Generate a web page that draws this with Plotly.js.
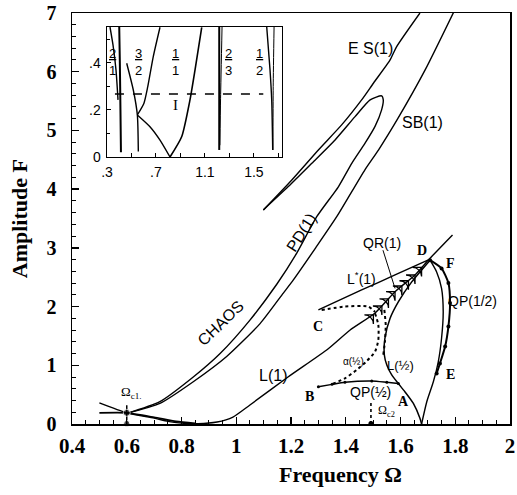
<!DOCTYPE html>
<html>
<head>
<meta charset="utf-8">
<script src="https://cdn.plot.ly/plotly-3.0.1.min.js"></script>
<style>html,body{margin:0;padding:0;background:#fff}#chart{width:517px;height:495px}</style>
</head>
<body>
<div id="chart"></div>
<script>
// ---------- main diagram data (Frequency Ω, Amplitude F) ----------
const l1Omega = [0.50,0.60,0.70,0.75,0.80,0.86,0.93,0.988,1.05,1.189,1.335,1.416,1.507,1.58,1.653,1.702,1.79];
const l1F     = [0.36,0.19,0.10,0.045,0.015,0.005,0.034,0.119,0.324,0.801,1.278,1.601,1.891,2.254,2.538,2.794,3.22];
const crossOmega = [0.50,0.60,0.70,0.78,0.85];
const crossF     = [0.19,0.19,0.115,0.045,0.01];
const pdOmega = [0.600,0.721,0.843,0.941,1.050,1.148,1.221,1.294,1.373,1.422,1.470,1.507,1.531,1.537,1.531,1.489,1.434,1.361,1.276,1.190,1.099];
const pdF     = [0.18,0.38,0.80,1.20,1.77,2.38,2.91,3.53,4.04,4.44,4.78,5.07,5.35,5.52,5.59,5.52,5.235,4.838,4.441,4.043,3.646];
const esOmega = [1.099,1.203,1.300,1.385,1.458,1.501,1.562,1.586,1.671];
const esF     = [3.646,4.157,4.668,5.094,5.520,5.804,6.201,6.428,7.0];
const sbOmega = [0.600,0.721,0.843,0.965,1.087,1.172,1.208,1.290,1.367,1.470,1.52,1.59,1.69,1.80];
const sbF     = [0.18,0.35,0.72,1.15,1.71,2.23,2.45,3.00,3.53,4.33,4.67,5.2,6.03,7.07];
const lStarOmega = [1.300,1.458,1.580,1.702];
const lStarF     = [1.942,2.283,2.538,2.794];
const dotCOmega = [1.312,1.397,1.482,1.507];
const dotCF     = [1.94,2.0,2.0,1.91];
const dot1Omega = [1.507,1.519,1.519,1.507,1.477,1.440,1.397,1.349];
const dot1F     = [1.886,1.687,1.431,1.232,1.073,0.92,0.778,0.676];
const dot2Omega = [1.541,1.546,1.543,1.537];
const dot2F     = [1.942,1.687,1.40,1.175];
const lHalfOmega = [1.708,1.641,1.592,1.562,1.543,1.541,1.550,1.568,1.592,1.616,1.647,1.671,1.677];
const lHalfF     = [2.79,2.42,2.08,1.80,1.46,1.175,1.005,0.835,0.69,0.55,0.35,0.097,0.0];
const bOmega = [1.300,1.35,1.397,1.495,1.55,1.592];
const bF     = [0.636,0.675,0.71,0.733,0.71,0.69];
const rightOmega = [1.677,1.696,1.720,1.738,1.750,1.756,1.750,1.732,1.708];
const rightF     = [0.0,0.38,0.72,1.06,1.46,1.91,2.31,2.59,2.79];
const qpOmega = [1.708,1.750,1.775,1.781,1.775,1.763,1.744,1.732];
const qpF     = [2.79,2.65,2.40,2.06,1.66,1.32,1.03,0.86];
const qrArrowOmega = [1.501,1.532,1.556,1.580,1.605,1.629,1.653,1.677];
const qrArrowF     = [1.857,2.01,2.13,2.254,2.35,2.44,2.538,2.666];
const qrPtrOmega = [1.536,1.580];
const qrPtrF     = [2.96,2.31];
const omegaC1 = 0.6, omegaC1Top = 0.32, omegaC1F = 0.19;
const omegaC2 = 1.492, omegaC2Top = 0.37;

// ---------- inset data (Ω, F) ----------
const t21aX = [0.3245,0.349,0.3735,0.39];      const t21aY = [0.553,0.477,0.37,0.243];
const t21bX = [0.40,0.405,0.41,0.414];         const t21bY = [0.553,0.40,0.20,0.02];
const t32aX = [0.461,0.515,0.548,0.556];       const t32aY = [0.399,0.285,0.179,0.023];
const t32bX = [0.733,0.678,0.633,0.602,0.548]; const t32bY = [0.552,0.427,0.299,0.229,0.179];
const cuspX = [0.548,0.651,0.733,0.815];       const cuspY = [0.179,0.129,0.072,0.0];
const t11X  = [1.074,1.019,0.978,0.910,0.815]; const t11Y  = [0.552,0.370,0.243,0.086,0.0];
const t23aX = [1.217,1.217];                   const t23aY = [0.553,0.03];
const t23bX = [1.240,1.228,1.222];             const t23bY = [0.553,0.25,0.05];
const t12aX = [1.605,1.632,1.646,1.654];       const t12aY = [0.553,0.37,0.24,0.03];
const t12bX = [1.665,1.658,1.656];             const t12bY = [0.553,0.30,0.03];
const dashX = [0.365,1.577];                   const dashY = [0.268,0.268];
const insetTickVals = [0.3,0.7,1.1,1.5];
const insetTickText = ['.3','.7','1.1','1.5'];
const insetMinorVals = [0.5,0.9,1.3,1.7];
const insetYVals = [0,0.2,0.4];
const insetYText = ['0','.2','.4'];
const fracs = [
  {num:'2', den:'1', x:0.349},
  {num:'3', den:'2', x:0.556},
  {num:'1', den:'1', x:0.856},
  {num:'2', den:'3', x:1.291},
  {num:'1', den:'2', x:1.55}
];
const fracY = 0.404;

// ---------- traces ----------
const K = '#000';
const traces = [];
function line(x, y, o) {
  o = o || {};
  traces.push({
    type:'scatter', x:x, y:y, mode:o.mode || 'lines',
    xaxis:o.inset ? 'x2' : 'x', yaxis:o.inset ? 'y2' : 'y',
    line:{color:K, width:o.w || 1.4, dash:o.dash || 'solid', shape:'spline', smoothing:0.6},
    marker:o.marker || {size:1, color:K},
    hoverinfo:'skip', cliponaxis:true
  });
}
line(l1Omega, l1F);
line(crossOmega, crossF, {w:1.6});
line(pdOmega, pdF);
line(esOmega, esF);
line(sbOmega, sbF);
line(lStarOmega, lStarF);
line(dotCOmega, dotCF, {dash:'dot', w:2});
line(dot1Omega, dot1F, {dash:'dot', w:2});
line(dot2Omega, dot2F, {dash:'dot', w:2});
line(lHalfOmega, lHalfF, {w:1.5});
line(bOmega, bF, {w:1.5, mode:'lines+markers', marker:{size:3, color:K}});
line(rightOmega, rightF, {w:1.4});
line(qpOmega, qpF, {w:2, mode:'lines+markers', marker:{size:4, color:K}});
line(qrPtrOmega, qrPtrF, {w:1});
traces.push({type:'scatter', x:qrArrowOmega, y:qrArrowF, mode:'markers', xaxis:'x', yaxis:'y',
  marker:{symbol:'arrow-wide-open', size:9, angle:45, color:K, line:{color:K, width:1.3}}, hoverinfo:'skip'});
line([omegaC1, omegaC1], [0, omegaC1Top], {w:1.5});
traces.push({type:'scatter', x:[omegaC1, omegaC1], y:[omegaC1F, 0.01], mode:'markers', xaxis:'x', yaxis:'y',
  marker:{size:[7,6], color:K}, hoverinfo:'skip', cliponaxis:false});
line([omegaC2, omegaC2], [0, omegaC2Top], {dash:'dot', w:1.6});
traces.push({type:'scatter', x:[omegaC2], y:[0.01], mode:'markers', xaxis:'x', yaxis:'y',
  marker:{size:5, color:K}, hoverinfo:'skip', cliponaxis:false});

// inset
line(t21aX, t21aY, {inset:true});
line(t21bX, t21bY, {inset:true, w:2});
line(t32aX, t32aY, {inset:true});
line(t32bX, t32bY, {inset:true});
line(cuspX, cuspY, {inset:true});
line(t11X, t11Y, {inset:true, w:1.6});
line(t23aX, t23aY, {inset:true, w:2});
line(t23bX, t23bY, {inset:true, w:1});
line(t12aX, t12aY, {inset:true});
line(t12bX, t12bY, {inset:true, w:1});
line(dashX, dashY, {inset:true, dash:'dash', w:1.4});

// ---------- annotations ----------
const sans = 'Liberation Sans, Arial, sans-serif';
const serif = 'Liberation Serif, Times New Roman, serif';
function ann(text, x, y, o) {
  o = o || {};
  return {text:text, x:x, y:y, xref:o.xref || 'x', yref:o.yref || 'y', showarrow:false,
    textangle:o.angle || 0, xanchor:'center', yanchor:'middle',
    font:{family:o.family || sans, size:o.size || 15, color:K, weight:o.weight || 'normal'}};
}
const annotations = [
  ann('E S(1)', 1.489, 6.40, {size:16}),
  ann('SB(1)', 1.679, 5.128, {size:16}),
  ann('PD(1)', 1.237, 3.27, {size:16, angle:-58}),
  ann('CHAOS', 0.941, 1.72, {size:16, angle:-44}),
  ann('L(1)', 1.134, 0.818, {size:16}),
  ann('QR(1)', 1.531, 3.08, {size:14}),
  ann('L<sup>*</sup>(1)', 1.458, 2.48, {size:14}),
  ann('QP(1/2)', 1.863, 2.10, {size:14}),
  ann('L(½)', 1.601, 0.99, {size:13}),
  ann('QP(½)', 1.489, 0.537, {size:14}),
  ann('α(½)', 1.43, 1.06, {size:10}),
  ann('D', 1.677, 2.96, {family:serif, size:14, weight:'bold'}),
  ann('F', 1.781, 2.74, {family:serif, size:14, weight:'bold'}),
  ann('C', 1.300, 1.66, {family:serif, size:14, weight:'bold'}),
  ann('B', 1.269, 0.465, {family:serif, size:14, weight:'bold'}),
  ann('A', 1.61, 0.38, {family:serif, size:14, weight:'bold'}),
  ann('E', 1.781, 0.835, {family:serif, size:14, weight:'bold'}),
  ann('Ω<sub>c2</sub>', 1.55, 0.225, {family:serif, size:12}),
  ann('Ω<sub>c1.</sub>', 0.616, 0.53, {family:serif, size:13}),
  ann('Frequency Ω', 0.614, -0.122, {xref:'paper', yref:'paper', family:serif, size:22, weight:'bold'}),
  ann('Amplitude F', -0.118, 0.499, {xref:'paper', yref:'paper', family:serif, size:22, weight:'bold', angle:-90}),
  ann('I', 0.856, 0.221, {xref:'x2', yref:'y2', family:serif, size:15})
];
fracs.forEach(f => annotations.push(
  ann('<u>' + f.num + '</u><br>' + f.den, f.x, fracY, {xref:'x2', yref:'y2', size:13})));

const layout = {
  width:517, height:495,
  margin:{l:72, r:7, t:13, b:71},
  paper_bgcolor:'#fff', plot_bgcolor:'#fff',
  showlegend:false, hovermode:false,
  xaxis:{range:[0.4,2], tick0:0.4, dtick:0.2, ticks:'inside', ticklen:7, tickwidth:1.3, tickcolor:K,
    minor:{dtick:0.05, ticks:'inside', ticklen:4, tickwidth:1, tickcolor:K},
    showline:true, mirror:true, linewidth:1.5, linecolor:K, showgrid:false, zeroline:false,
    ticklabelstandoff:2, tickfont:{family:serif, size:21, color:K, weight:'bold'}},
  yaxis:{range:[0,7], dtick:1, ticks:'inside', ticklen:7, tickwidth:1.3, tickcolor:K,
    minor:{dtick:0.2, ticks:'inside', ticklen:4, tickwidth:1, tickcolor:K},
    showline:true, mirror:true, linewidth:1.5, linecolor:K, showgrid:false, zeroline:false,
    ticklabelstandoff:10, tickfont:{family:serif, size:20, color:K, weight:'bold'}},
  xaxis2:{domain:[0.0799,0.4795], anchor:'y2', range:[0.3,1.73], tickmode:'array',
    tickvals:insetTickVals, ticktext:insetTickText,
    minor:{tickmode:'array', tickvals:insetMinorVals, ticks:'inside', ticklen:4, tickcolor:K},
    ticks:'inside', ticklen:4, tickcolor:K, showline:true, mirror:true, linewidth:1.4, linecolor:K,
    showgrid:false, zeroline:false, ticklabelstandoff:2, tickfont:{family:sans, size:14, color:K}},
  yaxis2:{domain:[0.6496,0.9659], anchor:'x2', range:[0,0.553], tickmode:'array',
    tickvals:insetYVals, ticktext:insetYText,
    minor:{dtick:0.1, ticks:'inside', ticklen:3, tickcolor:K},
    ticks:'inside', ticklen:4, tickcolor:K, showline:true, mirror:true, linewidth:1.4, linecolor:K,
    showgrid:false, zeroline:false, ticklabelstandoff:2, tickfont:{family:sans, size:14, color:K}},
  annotations:annotations
};
Plotly.newPlot('chart', traces, layout, {staticPlot:true, displayModeBar:false});
</script>
</body>
</html>
